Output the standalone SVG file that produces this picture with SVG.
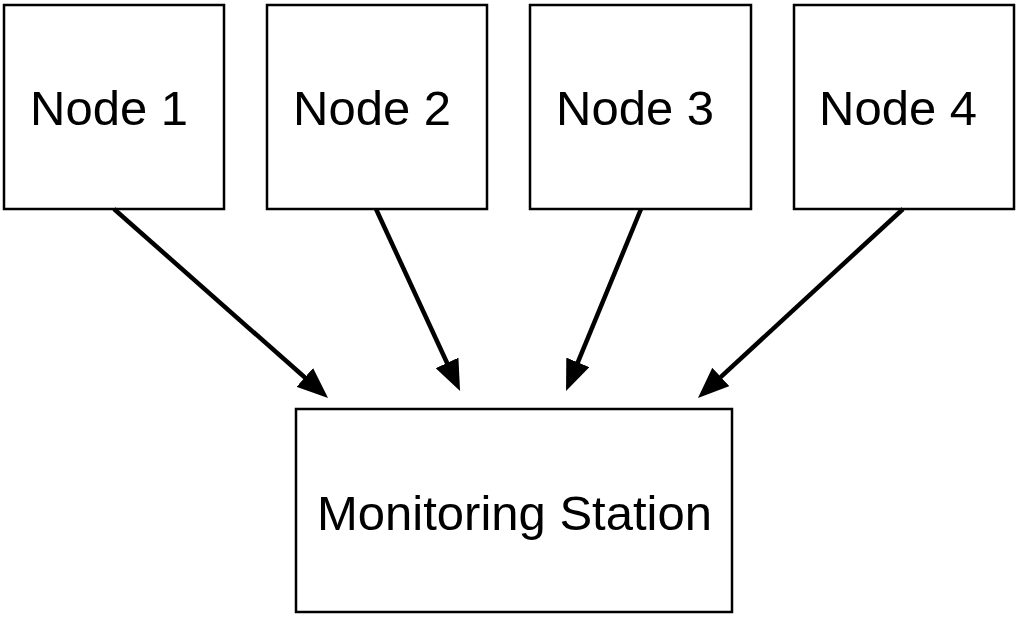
<svg xmlns="http://www.w3.org/2000/svg" width="1019" height="621" viewBox="0 0 1019 621">
<style>
.box{fill:#fff;stroke:#000;stroke-width:2.5}
.lbl{font-family:"Liberation Sans",Arial,sans-serif;font-size:49px;fill:#000}
.conn{stroke:#000;stroke-width:4.5;fill:none;marker-end:url(#ah)}
</style>
<defs>
<marker id="ah" markerUnits="userSpaceOnUse" markerWidth="31" markerHeight="25" refX="2" refY="12.5" orient="auto" viewBox="0 0 31 25">
<path d="M0,0 L31,12.5 L0,25 z" fill="#000"/>
</marker>
</defs>
<rect width="1019" height="621" fill="#fff"/>
<g id="node1"><rect class="box" x="4" y="5" width="220" height="204"/><text class="lbl" x="30" y="125">Node 1</text></g>
<g id="node2"><rect class="box" x="267" y="5" width="220" height="204"/><text class="lbl" x="293" y="125">Node 2</text></g>
<g id="node3"><rect class="box" x="530" y="5" width="221" height="204"/><text class="lbl" x="556" y="125">Node 3</text></g>
<g id="node4"><rect class="box" x="794" y="5" width="220" height="204"/><text class="lbl" x="819" y="125">Node 4</text></g>
<g id="station"><rect class="box" x="296" y="409" width="436" height="203"/><text class="lbl" x="317" y="530">Monitoring Station</text></g>
<g id="connectors">
<line class="conn" x1="114" y1="209" x2="306.3" y2="378.8"/>
<line class="conn" x1="376" y1="209" x2="447.9" y2="364.7"/>
<line class="conn" x1="641" y1="209" x2="577.1" y2="364.2"/>
<line class="conn" x1="903" y1="209" x2="719.3" y2="378.3"/>
</g>
</svg>
